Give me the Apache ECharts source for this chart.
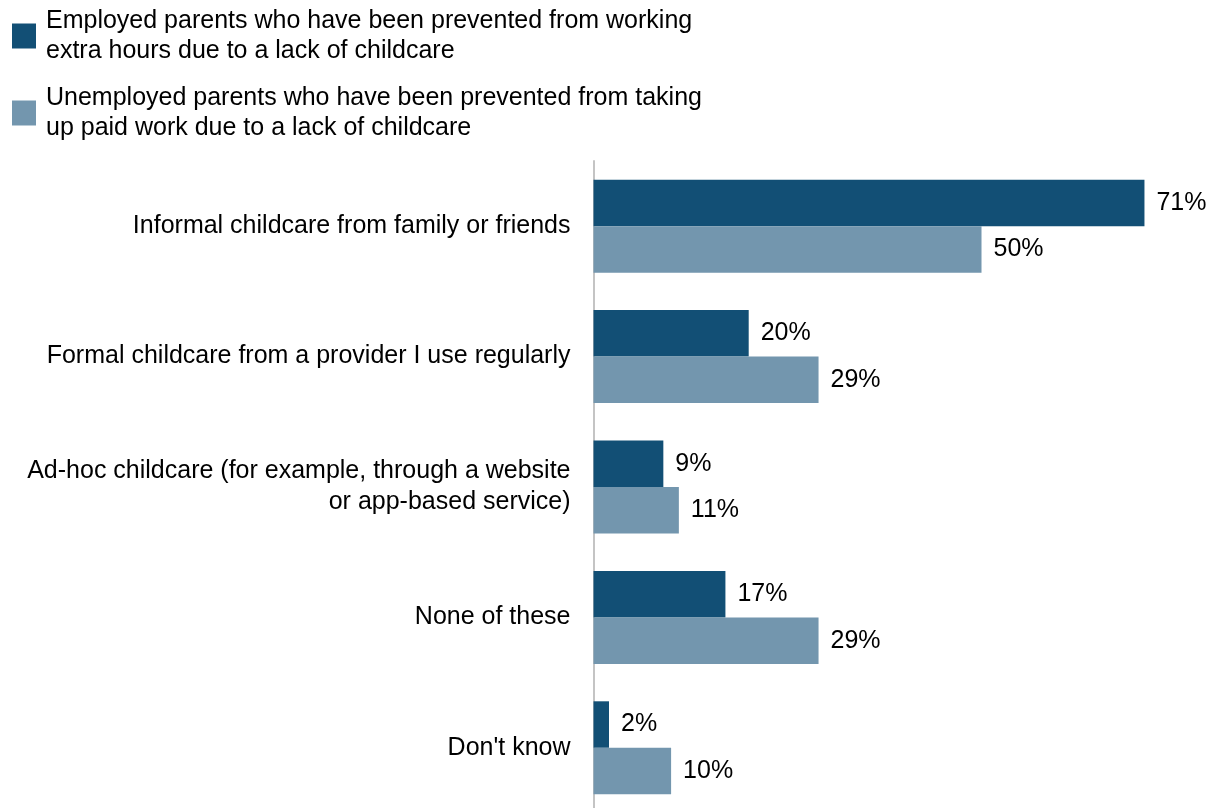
<!DOCTYPE html>
<html>
<head>
<meta charset="utf-8">
<script src="https://cdn.jsdelivr.net/npm/echarts@6/dist/echarts.min.js"></script>
<style>
  html, body { margin: 0; padding: 0; background: #fff; }
  #chart { width: 1218px; height: 808px; }
</style>
</head>
<body>
<div id="chart"></div>
<script>
// Childcare types (top to bottom)
const categories = [
  'Informal childcare from family or friends',
  'Formal childcare from a provider I use regularly',
  'Ad-hoc childcare (for example, through a website\nor app-based service)',
  'None of these',
  "Don't know"
];
const seriesNames = [
  'Employed parents who have been prevented from working\nextra hours due to a lack of childcare',
  'Unemployed parents who have been prevented from taking\nup paid work due to a lack of childcare'
];
const employed = [71, 20, 9, 17, 2];
const unemployed = [50, 29, 11, 29, 10];

const FONT = 'Liberation Sans, Arial, sans-serif';
const chart = echarts.init(document.getElementById('chart'), null, { renderer: 'canvas' });

const labelCfg = {
  show: true,
  position: 'right',
  distance: 12,
  formatter: '{c}%',
  color: '#000',
  fontSize: 25,
  fontFamily: FONT
};

chart.setOption({
  animation: false,
  backgroundColor: '#fff',
  legend: {
    orient: 'vertical',
    left: 7,
    top: 1,
    itemWidth: 24,
    itemHeight: 25,
    itemGap: 17,
    icon: 'rect',
    textStyle: {
      color: '#000',
      fontSize: 25,
      fontFamily: FONT,
      lineHeight: 30,
      padding: [0, 0, 0, 5]
    },
    data: seriesNames
  },
  grid: {
    left: 593.5, top: 161, width: 620.8, height: 652,
    outerBoundsMode: 'none',
    containLabel: false
  },
  xAxis: {
    type: 'value',
    min: 0,
    max: 80,
    show: false
  },
  yAxis: {
    type: 'category',
    inverse: true,
    data: categories,
    axisLine: { show: true, lineStyle: { color: '#c4c4c4', width: 2 } },
    axisTick: { show: false },
    splitLine: { show: false },
    axisLabel: {
      margin: 23,
      color: '#000',
      fontSize: 25,
      fontFamily: FONT,
      lineHeight: 31,
      align: 'right'
    }
  },
  series: [
    {
      name: seriesNames[0],
      type: 'bar',
      data: employed,
      barWidth: 46.5,
      barGap: '0%',
      itemStyle: { color: '#124f75' },
      label: labelCfg
    },
    {
      name: seriesNames[1],
      type: 'bar',
      data: unemployed,
      barWidth: 46.5,
      barGap: '0%',
      itemStyle: { color: '#7396ae' },
      label: labelCfg
    }
  ]
});
</script>
</body>
</html>
